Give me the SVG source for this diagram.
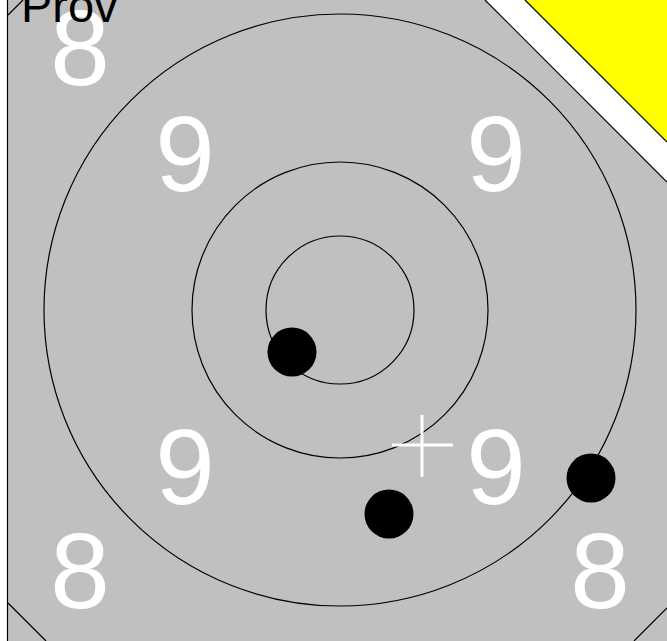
<svg xmlns="http://www.w3.org/2000/svg" width="667" height="641" viewBox="0 0 667 641">
<style>
.ring{fill:none;stroke:#000;stroke-width:1.2}
.edge{fill:none;stroke:#000;stroke-width:1.2}
.num{font-family:"Liberation Sans",Arial,sans-serif;font-size:107px;fill:#fff;text-anchor:middle}
.hit{fill:#000}
</style>
<rect x="0" y="0" width="667" height="641" fill="#C0C0C0"/>
<g id="frame">
<rect x="0" y="0" width="7.5" height="641" fill="#fff"/>
<line class="edge" x1="7.5" y1="0" x2="7.5" y2="641"/>
<line class="edge" x1="8" y1="15" x2="23" y2="0"/>
<line class="edge" x1="8" y1="603" x2="46" y2="641"/>
<line class="edge" x1="634" y1="641" x2="667" y2="608"/>
<polygon points="485,0 667,0 667,182" fill="#fff"/>
<line class="edge" x1="485" y1="0" x2="667" y2="182"/>
<polygon points="525,0 667,0 667,142" fill="#FFFF00"/>
<line class="edge" x1="525" y1="0" x2="667" y2="142"/>
</g>
<g id="rings">
<circle class="ring" cx="340" cy="310" r="296"/>
<circle class="ring" cx="340" cy="310" r="148"/>
<circle class="ring" cx="340" cy="310" r="74"/>
</g>
<g id="numbers">
<text class="num" x="80" y="85">8</text>
<text class="num" x="185" y="191">9</text>
<text class="num" x="496" y="191">9</text>
<text class="num" x="185" y="504">9</text>
<text class="num" x="496" y="504">9</text>
<text class="num" x="80" y="608">8</text>
<text class="num" x="600" y="608">8</text>
</g>
<g id="crosshair" stroke="#fff" stroke-width="3">
<line x1="422" y1="415" x2="422" y2="477"/>
<line x1="392" y1="445" x2="453" y2="445"/>
</g>
<g id="hits">
<circle class="hit" cx="292" cy="352" r="24.5"/>
<circle class="hit" cx="389" cy="514" r="24.5"/>
<circle class="hit" cx="591" cy="478" r="24.5"/>
</g>
<text x="21" y="22" font-family="'Liberation Sans',Arial,sans-serif" font-size="47" fill="#000">Prov</text>
</svg>
